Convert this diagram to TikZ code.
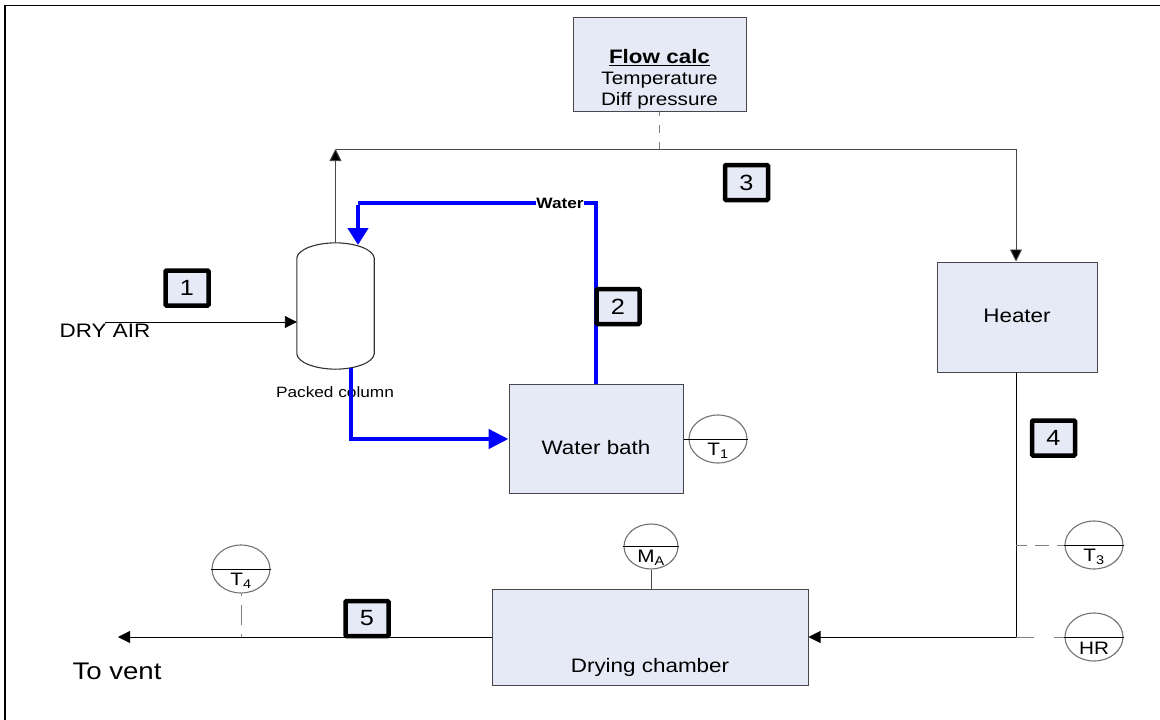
\documentclass[tikz,border=0pt]{standalone}
\usepackage{fontspec}
\setmainfont[FakeStretch=1.15]{Liberation Sans}
\usetikzlibrary{arrows.meta,positioning,shapes.geometric}
\definecolor{boxfill}{RGB}{230,234,246}
\definecolor{boxedge}{RGB}{70,70,75}
\definecolor{waterblue}{RGB}{0,0,255}

\begin{document}
\begin{tikzpicture}[x=1pt,y=-1pt,
					block/.style={draw=boxedge,fill=boxfill,line width=1pt,inner sep=0pt,
							font=\fontsize{19.5}{23}\selectfont,align=center},
					badge/.style={draw=black,fill=boxfill,line width=4.5pt,rounded corners=1pt,
							minimum width=43pt,minimum height=35pt,inner sep=0pt,
							font=\fontsize{22}{26}\selectfont},
					instr/.style={draw=gray!90!black,ellipse,line width=1.1pt,fill=white,
							minimum width=58pt,minimum height=48pt,inner sep=0pt},
					tag/.style={inner sep=0pt,font=\fontsize{18}{20}\selectfont},
					arr/.style={-{Triangle[length=12pt,width=12pt,fill=black]},line width=0.9pt},
					flow/.style={-{Triangle[length=17pt,width=20pt]},line width=4.5pt,waterblue},
					sig/.style={line width=0.9pt,gray}]
				\useasboundingbox (0,0) rectangle (1160,720);
				\coordinate (framebl) at (5,720);
				\coordinate (frametl) at (5,5.5);
				\coordinate (frametr) at (1160,5.5);
				\draw[line width=1.2pt] (framebl) -- (frametl) -- (frametr);
				% equipment
				\node[block,minimum width=173pt,minimum height=94pt,
					font=\fontsize{18}{23}\selectfont] (calc) at (659.5,64)
				{\\[22pt]{\fontsize{19.5}{23}\selectfont\underline{\textbf{Flow calc}}}\\[-2pt]Temperature\\[-2pt]Diff pressure};
				\node[block,minimum width=160pt,minimum height=110pt] (heater) at (1017,317) {Heater\\[-21pt]\mbox{}};
				\node[block,minimum width=174pt,minimum height=109pt] (bath) at (596,439) {\\[9pt]Water bath};
				\node[block,minimum width=316pt,minimum height=96pt] (chamber) at (650,637) {\\[53pt]Drying chamber};
				\node[minimum width=77pt,minimum height=126pt,inner sep=0pt] (column) at (335.5,306) {};
				\draw[fill=white,line width=1.1pt,draw=boxedge!70!black] (column.west |- 0,258)
				.. controls (298,249) and (316,243) .. (column.north)
				.. controls (355,243) and (373,249) .. (column.east |- 0,258)
				-- (column.east |- 0,354)
				.. controls (373,363) and (355,369) .. (column.south)
				.. controls (316,369) and (298,363) .. (column.west |- 0,354) -- cycle;
				\node[inner sep=0pt,font=\fontsize{15}{18}\selectfont] (packed) at (335,392) {Packed column};
				% free ends and bends
				\coordinate (dryin) at (105,322);
				\coordinate (topleft) at (335.5,149);
				\coordinate (topright) at (1016,149);
				\coordinate (calctap) at (659.5,149);
				\coordinate (waterright) at (596,203);
				\coordinate (waterleft) at (358,203);
				\coordinate (colin) at (358,245);
				\coordinate (colout) at (351,368);
				\coordinate (bathcorner) at (351,439);
				\coordinate (junction) at (1016,637);
				\coordinate (t3tap) at (1016,545);
				\coordinate (t4tap) at (241,637);
				\coordinate (vent) at (118,637);
				% air lines
				\draw[arr] (dryin) -- (column.west |- dryin);
				\draw[arr,boxedge] (column.north) -- (topleft);
				\draw[arr,boxedge] (topleft) -- (topright) -- (heater.north -| topright);
				\draw[sig,dash pattern=on 8pt off 9pt,dash phase=4pt] (calc.south) -- (calctap);
				\draw[arr] (heater.south -| junction) -- (junction) -- (chamber.east |- junction);
				\draw[arr] (chamber.west |- vent) -- (vent);
				% water lines
				\draw[line width=4.5pt,waterblue] (bath.north) -- (waterright) -- (waterleft);
				\draw[flow] (waterleft) ++(0,-2pt) -- (colin);
				\draw[flow,-{Triangle[length=20pt,width=19pt]}] (colout) -- (bathcorner) -- (bath.west);
				\node[fill=white,inner sep=0pt,font=\fontsize{15}{17}\selectfont\bfseries] (water) at (560,203) {Water};
				% instruments
				\node[instr] (t1) at (718,439) {};
				\node[instr,minimum width=54pt,minimum height=45pt] (ma) at (651,546.5) {};
				\node[instr] (t3) at (1094,545) {};
				\node[instr] (hr) at (1094,637) {};
				\node[instr] (t4) at (241,569) {};
				\foreach \inst in {t1,ma,t3,hr,t4}
					\draw[line width=0.8pt] (\inst.west) -- (\inst.east);
				\node[tag] (t1txt) at (718,451) {T\textsubscript{1}};
				\node[tag] (matxt) at (651,558) {M\textsubscript{A}};
				\node[tag] (t3txt) at (1094,557) {T\textsubscript{3}};
				\node[tag] (hrtxt) at (1094,648) {HR};
				\node[tag] (t4txt) at (241,581) {T\textsubscript{4}};
				\draw[line width=0.9pt] (bath.east |- t1) -- (t1.west);
				\draw[line width=0.9pt,boxedge] (ma.south) -- (chamber.north -| ma);
				\draw[sig,dash pattern=on 14pt off 8pt,dash phase=3pt] (t3tap) -- (t3.west);
				\draw[sig,dash pattern=on 18pt off 20pt] (junction) -- (hr.west);
				\draw[sig,dash pattern=on 20pt off 9pt,dash phase=17pt] (t4tap) -- (t4.south);
				% stream numbers
				\node[badge] (s1) at (187,288) {1};
				\node[badge] (s2) at (618,306.5) {2};
				\node[badge] (s3) at (746.5,182.5) {3};
				\node[badge] (s4) at (1053.5,438) {4};
				\node[badge] (s5) at (367,618.5) {5};
				% labels
				\node[inner sep=0pt,font=\fontsize{19.5}{23}\selectfont] (dry) at (105,331) {DRY AIR};
				\node[inner sep=0pt,font=\fontsize{24}{28}\selectfont] (tovent) at (117,671) {To vent};
			\end{tikzpicture}
\end{document}
